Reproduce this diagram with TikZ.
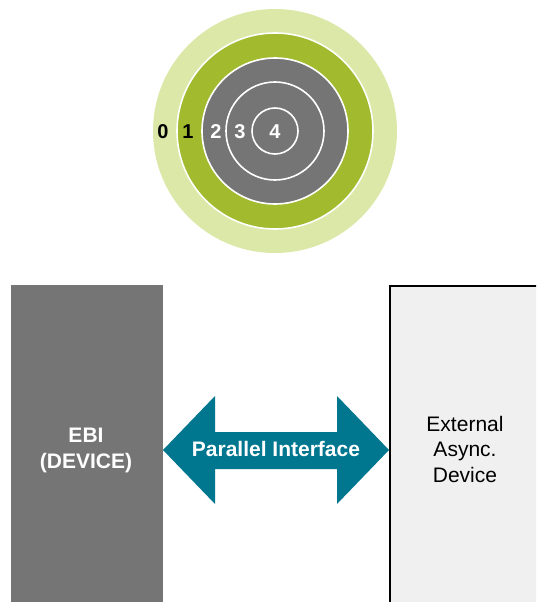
\documentclass[tikz,border=0pt]{standalone}
\usepackage{fontspec}
\setmainfont{Liberation Sans}
\definecolor{lightgreen}{HTML}{DCE8A8}
\definecolor{darkgreen}{HTML}{A2BA2E}
\definecolor{ringgray}{HTML}{767576}
\definecolor{teal}{HTML}{00768F}
\definecolor{boxfill}{HTML}{F0F0F0}
\tikzset{
  ring/.style={draw=white, line width=1.6pt},
  digit/.style={font=\fontsize{20}{22}\selectfont\bfseries, inner sep=0pt},
  bigtxt/.style={font=\fontsize{21}{25.5}\selectfont, align=center},
}
\begin{document}
\begin{tikzpicture}[x=1pt,y=-1pt]
\useasboundingbox (0,0) rectangle (536,602);
\clip (0,0) rectangle (536,602);
\fill[white] (0,0) rectangle (536,602);
% target rings
\coordinate (c) at (275,131);
\fill[lightgreen] (c) circle[radius=122];
\filldraw[fill=darkgreen, ring] (c) circle[radius=98];
\filldraw[fill=ringgray, ring] (c) circle[radius=73];
\draw[ring] (c) circle[radius=49];
\draw[ring] (c) circle[radius=23];
\node[digit, text=black] (l0) at (163,132) {0};
\node[digit, text=black] (l1) at (188,132) {1};
\node[digit, text=white] (l2) at (216,132) {2};
\node[digit, text=white] (l3) at (240,132) {3};
\node[digit, text=white] (l4) at (275,132) {4};
% boxes
\node[fill=ringgray, minimum width=152, minimum height=330, inner sep=0pt, anchor=north west] (ebi) at (11,285) {};
\node[bigtxt, text=white, font=\fontsize{21}{26}\selectfont\bfseries] (ebitxt) at (86,450) {EBI\\(DEVICE)};
\node[fill=boxfill, draw=black, line width=2pt, minimum width=170, minimum height=340, inner sep=0pt, anchor=north west] (ext) at (389,285) {};
\node[bigtxt, text=black] (exttxt) at (465,449) {External\\Async.\\Device};
% double arrow
\fill[teal] (163,450) -- (215,396) -- (215,432) -- (337,432) -- (337,396) -- (389,450)
  -- (337,504) -- (337,469) -- (215,469) -- (215,504) -- cycle;
\node[text=white, font=\fontsize{21}{25}\selectfont\bfseries] (pi) at (276,449) {Parallel Interface};
\end{tikzpicture}
\end{document}
